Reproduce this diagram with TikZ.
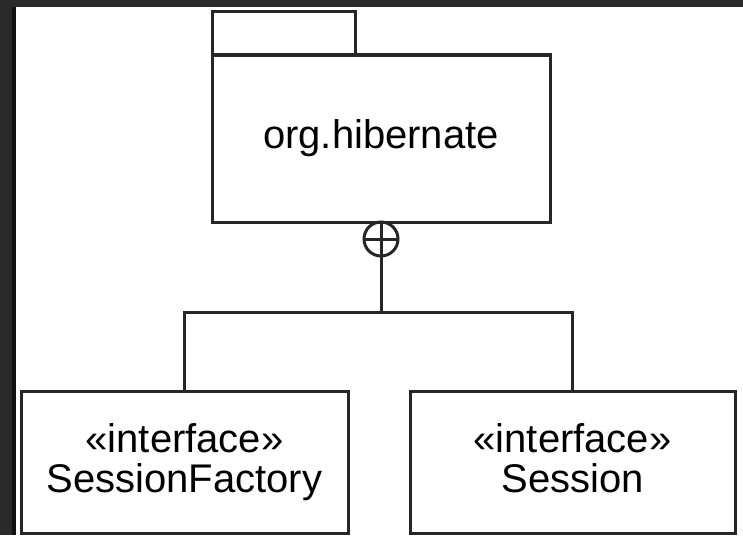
\documentclass[tikz,border=0pt]{standalone}
\usepackage{fontspec}
\setmainfont{Liberation Sans}
\definecolor{bgdark}{HTML}{2A2A2A}
\definecolor{edgedark}{HTML}{111111}
\begin{document}
\begin{tikzpicture}[x=1pt, y=-1pt]
	\tikzset{box/.style={draw=black!85, line width=3pt, inner sep=0pt, outer sep=0pt, align=center, font=\fontsize{40}{40}\selectfont}}
	%\draw[help lines] (0,0) grid (743,535);
	\useasboundingbox (0,0) rectangle (743,535);
	\fill[bgdark] (0,0) rectangle (743,535);
	\fill[edgedark] (12,7) rectangle (16,535);
	\fill[white] (16,7) rectangle (743,535);

	\node [box, minimum width=338pt, minimum height=167pt] (pkg) at (381,138.5) {org.hibernate};
	\node [box, anchor=south west, minimum width=143pt, minimum height=43pt] (tab) at (pkg.north west) {};
	\node [box, circle, minimum size=34pt, anchor=north] (nest) at (pkg.south) {};
	\draw [line width=3pt, black!85] (nest.west) -- (nest.east);
	\draw [line width=3pt, black!85] (nest.north) -- (nest.south);

	\node [box, minimum width=327pt, minimum height=142pt] (factory) at (184.5,462) {«interface»\\SessionFactory};
	\node [box, minimum width=325pt, minimum height=142pt] (session) at (572.5,462) {«interface»\\Session\vphantom{y}};

	\coordinate (fork) at (381,312);
	\draw [line width=3pt, black!85] (nest.south) -- (fork) -| (factory.north);
	\draw [line width=3pt, black!85] (fork) -| (session.north);
\end{tikzpicture}
\end{document}
